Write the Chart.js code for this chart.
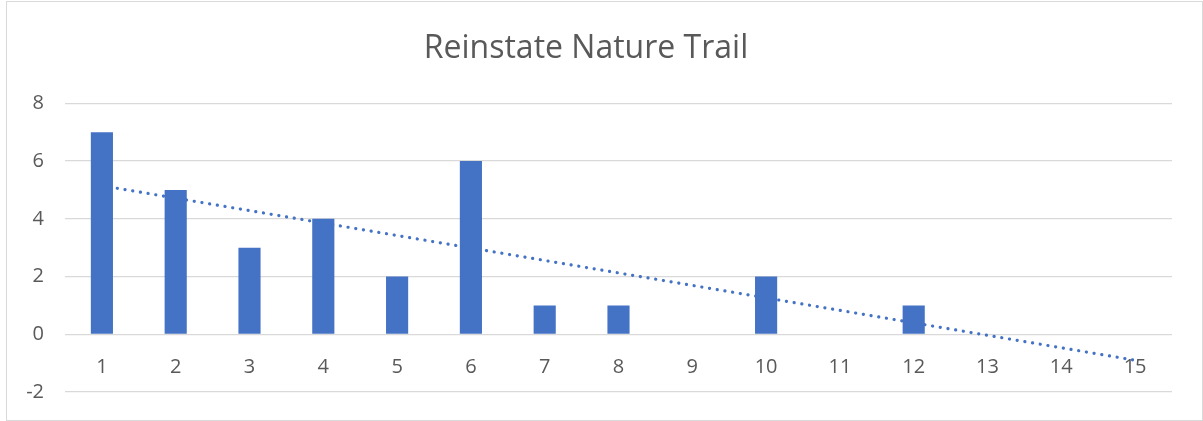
<!DOCTYPE html>
<html>
<head>
<meta charset="utf-8">
<script src="https://cdn.jsdelivr.net/npm/chart.js@4"></script>
<style>
  html, body { margin: 0; padding: 0; background: #fff; }
  #wrap { position: absolute; left: 6px; top: 1px; width: 1195px; height: 418px; border: 1px solid #d9d9d9; }
  #chart { position: absolute; left: 0; top: 0; }
</style>
</head>
<body>
<div id="wrap"></div>
<canvas id="chart" width="1203" height="421"></canvas>
<script>
var categories = ["1", "2", "3", "4", "5", "6", "7", "8", "9", "10", "11", "12", "13", "14", "15"];
var values = [7, 5, 3, 4, 2, 6, 1, 1, 0, 2, 0, 1, 0, 0, 0];
// dotted trend line at the first and last category
var trendStart = 5.15;
var trendEnd = -0.9;
var yTicks = [-2, 0, 2, 4, 6, 8];

var trendData = categories.map(function (c, i) {
    if (i === 0) return trendStart;
    if (i === categories.length - 1) return trendEnd;
    return null;
});

var textColor = "#595959";
var gridColor = "#d9d9d9";

new Chart("chart", {
    type: "bar",
    data: {
        labels: categories,
        datasets: [{
            type: "line",
            data: trendData,
            spanGaps: true,
            borderColor: "#4472c4",
            borderWidth: 3.2,
            borderDash: [0.1, 7.7],
            borderCapStyle: "round",
            pointRadius: 0,
            fill: false,
            order: 0
        }, {
            data: values,
            backgroundColor: "#4472c4",
            barPercentage: 0.3,
            categoryPercentage: 1,
            order: 1
        }]
    },
    options: {
        responsive: false,
        animation: false,
        layout: { padding: { left: 0, right: 31, top: 0, bottom: 29 } },
        plugins: {
            legend: { display: false },
            tooltip: { enabled: false },
            title: {
                display: true,
                text: "Reinstate Nature Trail",
                color: textColor,
                font: { family: "'Open Sans', sans-serif", size: 32, weight: "normal", lineHeight: 1.2 },
                padding: { top: 30, bottom: 35 }
            }
        },
        scales: {
            x: {
                position: { y: 0 },
                afterFit: function (axis) { axis.height = 0; },
                grid: { display: false },
                border: { display: false },
                ticks: {
                    color: textColor,
                    font: { family: "'Open Sans', sans-serif", size: 20 },
                    padding: 13,
                    maxRotation: 0
                }
            },
            y: {
                min: -2,
                max: 8,
                afterBuildTicks: function (axis) {
                    axis.ticks = yTicks.map(function (v) { return { value: v }; });
                },
                afterFit: function (axis) { axis.width = 65; },
                grid: { color: gridColor, lineWidth: 1.3, drawTicks: true, tickLength: 21, tickColor: "rgba(0,0,0,0)" },
                border: { display: false },
                ticks: {
                    color: textColor,
                    font: { family: "'Open Sans', sans-serif", size: 20 },
                    padding: 0
                }
            }
        }
    }
});
</script>
</body>
</html>
